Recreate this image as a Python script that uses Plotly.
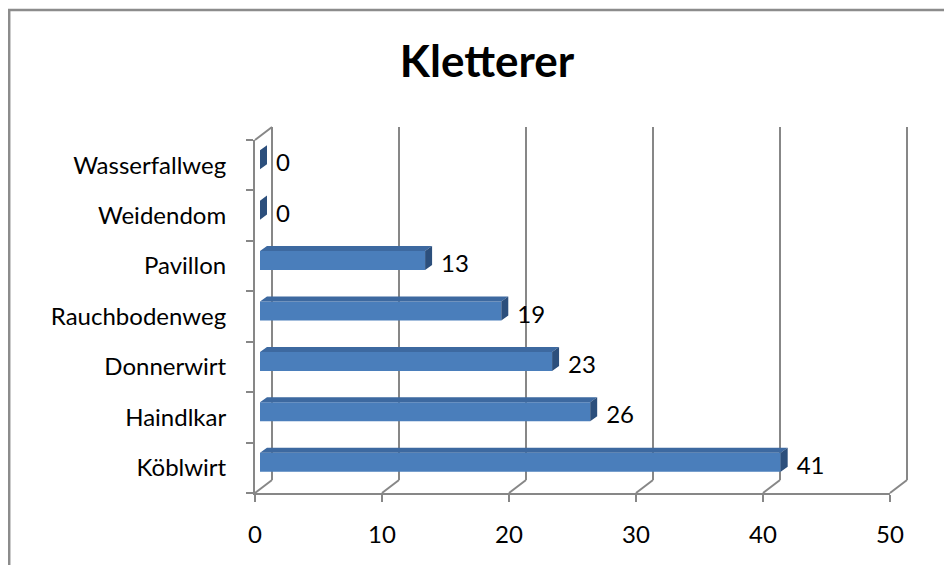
import plotly.graph_objects as go

# ---- data (bottom to top) ----
categories = ["Köblwirt", "Haindlkar", "Donnerwirt", "Rauchbodenweg", "Pavillon", "Weidendom", "Wasserfallweg"]
values = [41, 26, 23, 19, 13, 0, 0]
x_ticks = [0, 10, 20, 30, 40, 50]
title_text = "Kletterer"

# ---- geometry / style ----
PAGE_W, PAGE_H = 952, 573
OFF = 8                                  # default page margin around the figure
W, H = PAGE_W - 2 * OFF, PAGE_H - 2 * OFF
FONT = "Lato"
GRAY = "#878787"
FRONT = "#4a7ebb"
TOP = "#3d69a0"
SIDE = "#2c4f7c"

def px(p):
    return (p - OFF) / W

def py(p):
    return 1 - (p - OFF) / H

# plane pixel boxes (page pixels): (left, right, top, bottom)
front = (255, 890, 140, 493)
back = (272, 907, 127, 480)
barpl = (260, 895, 134.5, 487.5)
labpl = (276, 911)

bar_h = 0.377      # bar thickness in category units
dep_x = 0.55       # bar depth in value units
dep_y = 0.10       # bar depth in category units
xr = [0, 50]
yr = [-0.5, len(categories) - 0.5]
EPS = 0.3          # small range padding so edge gridlines on the back wall are kept
ppu = (back[1] - back[0]) / (xr[1] - xr[0])

fig = go.Figure()

idx = list(range(len(categories)))

# top faces
tx, ty = [], []
for i, v in zip(idx, values):
    t = i + bar_h / 2
    tx += [0, v, v + dep_x, dep_x, 0, None]
    ty += [t, t, t + dep_y, t + dep_y, t, None]
fig.add_trace(go.Scatter(x=tx, y=ty, xaxis="x3", yaxis="y3", mode="lines", fill="toself",
                         fillcolor=TOP, line=dict(width=0, color=TOP), hoverinfo="skip", showlegend=False))
# side faces
sx, sy = [], []
for i, v in zip(idx, values):
    t = i + bar_h / 2
    b = i - bar_h / 2
    sx += [v, v + dep_x, v + dep_x, v, v, None]
    sy += [b, b + dep_y, t + dep_y, t, b, None]
fig.add_trace(go.Scatter(x=sx, y=sy, xaxis="x3", yaxis="y3", mode="lines", fill="toself",
                         fillcolor=SIDE, line=dict(width=0, color=SIDE), hoverinfo="skip", showlegend=False))
# front faces
fig.add_trace(go.Bar(x=values, y=idx, orientation="h", width=bar_h, base=0,
                     xaxis="x3", yaxis="y3", marker=dict(color=FRONT, line=dict(width=0)),
                     showlegend=False))
# front-plane subplot (axes with ticks and labels)
fig.add_trace(go.Scatter(x=[None], y=[categories[0]], xaxis="x", yaxis="y", mode="markers",
                         showlegend=False, hoverinfo="skip"))
# data labels
fig.add_trace(go.Scatter(x=values, y=categories, xaxis="x4", yaxis="y", mode="text",
                         text=[str(v) for v in values], textposition="middle right",
                         textfont=dict(family=FONT, size=24, color="#000000"),
                         cliponaxis=False, showlegend=False, hoverinfo="skip"))
# back-plane subplot (grid)
fig.add_trace(go.Scatter(x=[None], y=[None], xaxis="x2", yaxis="y2", showlegend=False, hoverinfo="skip"))

hidden = dict(showgrid=False, zeroline=False, showline=False, showticklabels=False, ticks="",
              automargin=False)

fig.update_layout(
    width=W, height=H, autosize=False,
    margin=dict(l=0, r=0, t=0, b=0, pad=0, autoexpand=False),
    paper_bgcolor="white", plot_bgcolor="rgba(0,0,0,0)",
    font=dict(family=FONT, color="#000000"),
    title=dict(text=title_text, x=px(487), y=py(62), xanchor="center", yanchor="middle",
               xref="paper", yref="paper", automargin=False,
               font=dict(family=FONT, size=44, weight="bold", color="#000000")),
    xaxis=dict(domain=[px(front[0]), px(front[1])], range=xr, anchor="y", automargin=False,
               tickmode="array", tickvals=x_ticks, ticktext=[str(t) for t in x_ticks],
               showgrid=False, zeroline=False, showline=True, linecolor=GRAY, linewidth=2,
               ticks="outside", ticklen=7, tickwidth=2, tickcolor=GRAY,
               ticklabelstandoff=12, tickfont=dict(family=FONT, size=24, color="#000000")),
    yaxis=dict(domain=[py(front[3]), py(front[2])], range=yr, anchor="x", type="category",
               automargin=False,
               categoryorder="array", categoryarray=categories, tickson="boundaries",
               showgrid=False, zeroline=False, showline=True, linecolor=GRAY, linewidth=2,
               ticks="outside", ticklen=7, tickwidth=2, tickcolor=GRAY,
               ticklabelstandoff=22, tickfont=dict(family=FONT, size=24, color="#000000")),
    xaxis2=dict(domain=[px(back[0] - EPS * ppu), px(back[1] + EPS * ppu)],
                range=[xr[0] - EPS, xr[1] + EPS], anchor="y2", automargin=False,
                tickmode="array", tickvals=x_ticks, showticklabels=False,
                showgrid=True, gridcolor=GRAY, gridwidth=2, zeroline=False, showline=False, ticks=""),
    yaxis2=dict(domain=[py(back[3]), py(back[2])], range=yr, anchor="x2", **hidden),
    xaxis3=dict(domain=[px(barpl[0]), px(barpl[1])], range=xr, anchor="y3", **hidden),
    yaxis3=dict(domain=[py(barpl[3]), py(barpl[2])], range=yr, anchor="x3", **hidden),
    xaxis4=dict(domain=[px(labpl[0]), px(labpl[1])], range=xr, anchor="y", **hidden),
)

def xf(v):
    return px(front[0] + (v - xr[0]) / (xr[1] - xr[0]) * (front[1] - front[0]))

def xb(v):
    return px(back[0] + (v - xr[0]) / (xr[1] - xr[0]) * (back[1] - back[0]))

line = dict(color=GRAY, width=2)
# floor diagonals
for v in x_ticks:
    fig.add_shape(type="line", xref="paper", yref="paper", x0=xf(v), y0=py(front[3]),
                  x1=xb(v), y1=py(back[3]), line=line, layer="below")
# left wall top diagonal
fig.add_shape(type="line", xref="paper", yref="paper", x0=xf(0), y0=py(front[2]),
              x1=xb(0), y1=py(back[2]), line=line, layer="below")
# outer chart border (top and left visible)
bx = max(px(6.5), 1.2 / W)
fig.add_shape(type="path", xref="paper", yref="paper",
              path=f"M {bx},0 L {bx},{py(10)} L 1,{py(10)}",
              line=dict(color="#8c8c8c", width=2.5), layer="above")

fig.write_html("out.html", config={"displayModeBar": False})
